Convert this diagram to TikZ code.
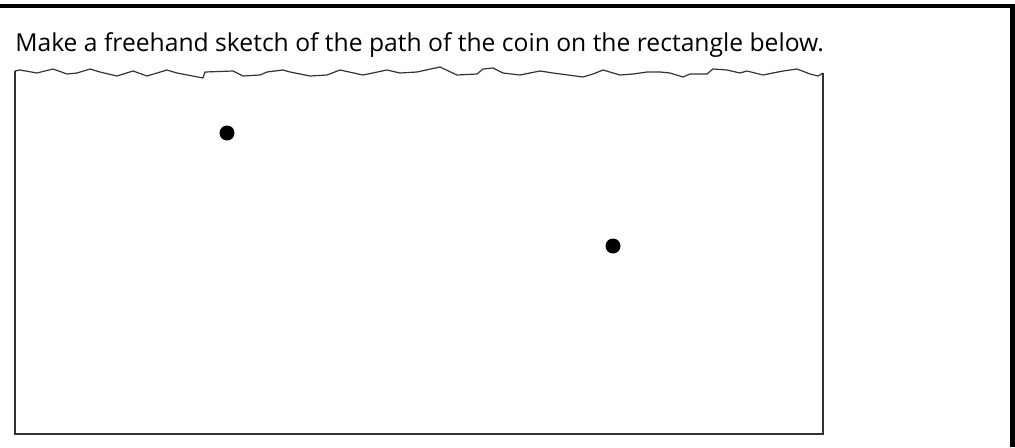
\documentclass[tikz,border=0pt]{standalone}
\usepackage{fontspec}
\setmainfont{Open Sans}
\usepackage{tikz}
\usepackage{xcolor}
\definecolor{edgegray}{HTML}{333333}

\begin{document}
\begin{tikzpicture}[x=0.75pt,y=-0.75pt,every node/.style={font=\fontsize{18.5}{22}\selectfont}]
\useasboundingbox (0,0) rectangle (1015,447);
\fill[black] (0,4) rectangle (1015,8);
\fill[black] (1010,4) rectangle (1015,447);
\node[anchor=base west,inner sep=0pt] (task) at (15,51) {Make a freehand sketch of the path of the coin on the rectangle below.};
\draw[edgegray,line width=0.9pt,line join=round]
  (15,71) -- (20,70) -- (37,73) -- (53,69) -- (67,74) -- (77,73) -- (90,69) -- (100,72)
  -- (117,76) -- (133,71) -- (147,76) -- (167,70) -- (177,73) -- (203,78) -- (205,72)
  -- (233,71) -- (243,76) -- (260,75) -- (267,72) -- (283,70) -- (290,72) -- (310,76)
  -- (327,75) -- (340,70) -- (363,75) -- (387,70) -- (400,73) -- (417,72) -- (440,67)
  -- (457,75) -- (477,74) -- (483,69) -- (493,68) -- (503,73) -- (520,75) -- (540,71)
  -- (553,73) -- (583,77) -- (593,74) -- (603,70) -- (620,75) -- (633,74) -- (647,72)
  -- (660,72) -- (670,73) -- (683,77) -- (690,74) -- (707,74) -- (713,69) -- (727,70)
  -- (740,73) -- (747,71) -- (763,75) -- (773,73) -- (783,71) -- (797,69) -- (810,74)
  -- (818,76) -- (823,73);
\draw[edgegray,line width=1.2pt] (15,71) -- (15,434) -- (823,434) -- (823,73);
\fill[black] (227,133) circle (7.5) coordinate (coinA);
\fill[black] (613,246) circle (7.5) coordinate (coinB);
\end{tikzpicture}
\end{document}
